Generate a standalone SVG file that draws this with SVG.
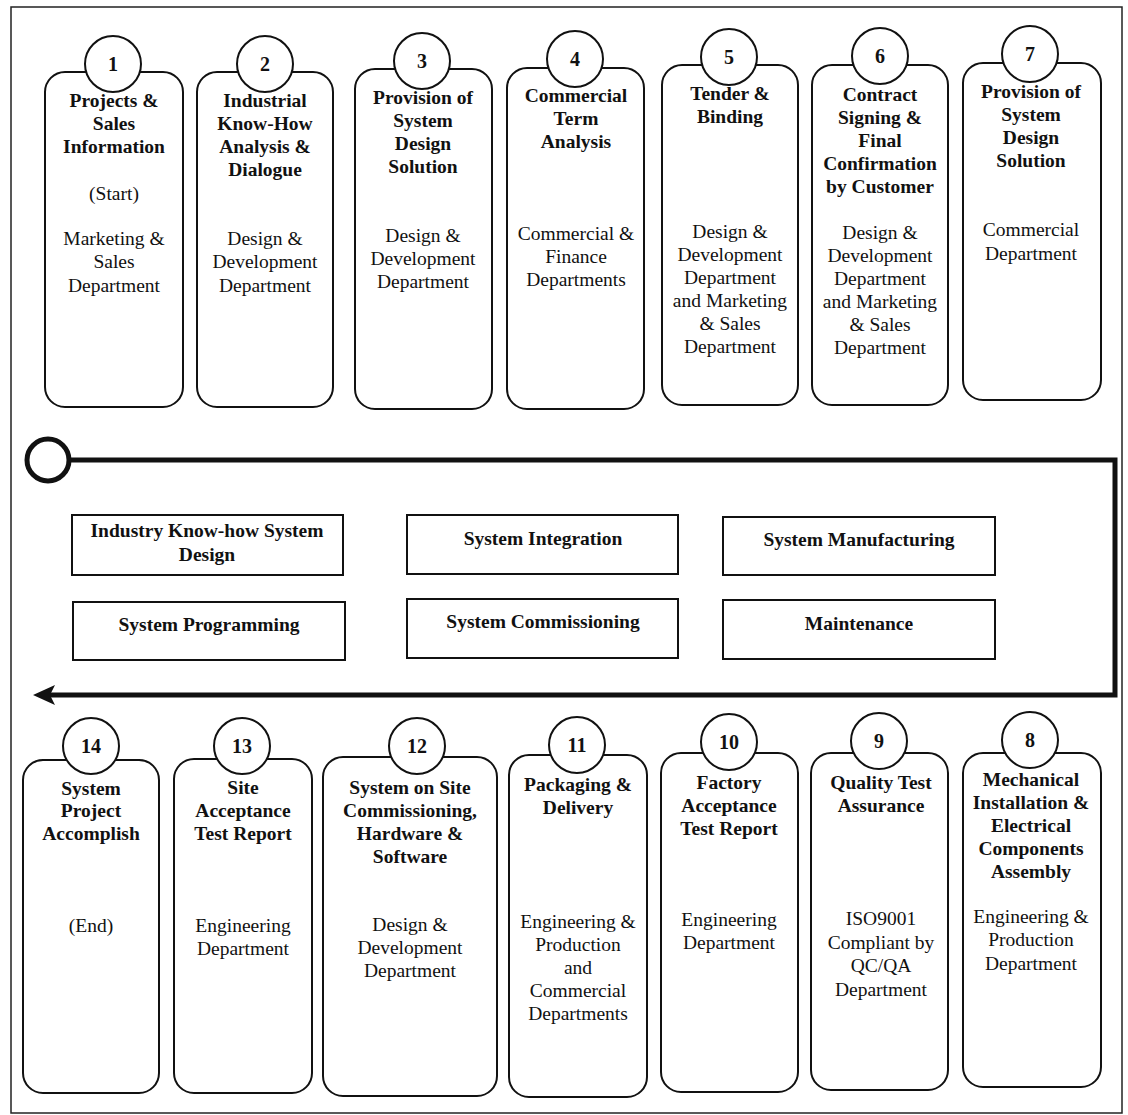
<svg xmlns="http://www.w3.org/2000/svg" width="1128" height="1115" viewBox="0 0 1128 1115">
<style>
.frame{fill:none;stroke:#222;stroke-width:1.5}
.box{fill:#fff;stroke:#111;stroke-width:2}
.num{fill:#fff;stroke:#111;stroke-width:2}
.mbox{fill:#fff;stroke:#111;stroke-width:2}
text{font-family:"Liberation Serif","Times New Roman",serif;font-size:19.5px;text-anchor:middle;fill:#111}
.b{font-weight:bold}
.d{font-weight:bold;font-size:20px}
.flow{fill:none;stroke:#111;stroke-width:5}
</style>
<defs>
<marker id="arr" markerUnits="userSpaceOnUse" viewBox="0 0 22 20" markerWidth="22" markerHeight="20" refX="15" refY="10" orient="auto">
<path d="M0,0 L22,10 L0,20 L5,10 Z" fill="#111"/>
</marker>
</defs>
<rect class="frame" x="11" y="7" width="1111" height="1106"/>

<g id="connectors">
<path class="flow" d="M69,460 H1115 V695 H40" marker-end="url(#arr)"/>
<circle cx="48" cy="460" r="21" fill="#fff" stroke="#111" stroke-width="5"/>
</g>

<!-- top row -->
<g id="node1">
<rect class="box" x="45" y="72" width="138" height="335" rx="20"/>
<circle class="num" cx="113" cy="64" r="28"/>
<text class="d" x="113" y="71">1</text>
<text class="b"><tspan x="114" y="107">Projects &amp;</tspan><tspan x="114" y="130">Sales</tspan><tspan x="114" y="153">Information</tspan></text>
<text><tspan x="114" y="200">(Start)</tspan><tspan x="114" y="245">Marketing &amp;</tspan><tspan x="114" y="268">Sales</tspan><tspan x="114" y="292">Department</tspan></text>
</g>
<g id="node2">
<rect class="box" x="197" y="72" width="136" height="335" rx="20"/>
<circle class="num" cx="265" cy="64" r="28"/>
<text class="d" x="265" y="71">2</text>
<text class="b"><tspan x="265" y="107">Industrial</tspan><tspan x="265" y="130">Know-How</tspan><tspan x="265" y="153">Analysis &amp;</tspan><tspan x="265" y="176">Dialogue</tspan></text>
<text><tspan x="265" y="245">Design &amp;</tspan><tspan x="265" y="268">Development</tspan><tspan x="265" y="292">Department</tspan></text>
</g>
<g id="node3">
<rect class="box" x="355" y="69" width="137" height="340" rx="20"/>
<circle class="num" cx="422" cy="61" r="28"/>
<text class="d" x="422" y="68">3</text>
<text class="b"><tspan x="423" y="104">Provision of</tspan><tspan x="423" y="127">System</tspan><tspan x="423" y="150">Design</tspan><tspan x="423" y="173">Solution</tspan></text>
<text><tspan x="423" y="242">Design &amp;</tspan><tspan x="423" y="265">Development</tspan><tspan x="423" y="288">Department</tspan></text>
</g>
<g id="node4">
<rect class="box" x="507" y="68" width="137" height="341" rx="20"/>
<circle class="num" cx="575" cy="59" r="28"/>
<text class="d" x="575" y="66">4</text>
<text class="b"><tspan x="576" y="102">Commercial</tspan><tspan x="576" y="125">Term</tspan><tspan x="576" y="148">Analysis</tspan></text>
<text><tspan x="576" y="240">Commercial &amp;</tspan><tspan x="576" y="263">Finance</tspan><tspan x="576" y="286">Departments</tspan></text>
</g>
<g id="node5">
<rect class="box" x="662" y="65" width="136" height="340" rx="20"/>
<circle class="num" cx="729" cy="57" r="28"/>
<text class="d" x="729" y="64">5</text>
<text class="b"><tspan x="730" y="100">Tender &amp;</tspan><tspan x="730" y="123">Binding</tspan></text>
<text><tspan x="730" y="238">Design &amp;</tspan><tspan x="730" y="261">Development</tspan><tspan x="730" y="284">Department</tspan><tspan x="730" y="307">and Marketing</tspan><tspan x="730" y="330">&amp; Sales</tspan><tspan x="730" y="353">Department</tspan></text>
</g>
<g id="node6">
<rect class="box" x="812" y="65" width="136" height="340" rx="20"/>
<circle class="num" cx="880" cy="56" r="28"/>
<text class="d" x="880" y="63">6</text>
<text class="b"><tspan x="880" y="101">Contract</tspan><tspan x="880" y="124">Signing &amp;</tspan><tspan x="880" y="147">Final</tspan><tspan x="880" y="170">Confirmation</tspan><tspan x="880" y="193">by Customer</tspan></text>
<text><tspan x="880" y="239">Design &amp;</tspan><tspan x="880" y="262">Development</tspan><tspan x="880" y="285">Department</tspan><tspan x="880" y="308">and Marketing</tspan><tspan x="880" y="331">&amp; Sales</tspan><tspan x="880" y="354">Department</tspan></text>
</g>
<g id="node7">
<rect class="box" x="963" y="63" width="138" height="337" rx="20"/>
<circle class="num" cx="1030" cy="54" r="28"/>
<text class="d" x="1030" y="61">7</text>
<text class="b"><tspan x="1031" y="98">Provision of</tspan><tspan x="1031" y="121">System</tspan><tspan x="1031" y="144">Design</tspan><tspan x="1031" y="167">Solution</tspan></text>
<text><tspan x="1031" y="236">Commercial</tspan><tspan x="1031" y="260">Department</tspan></text>
</g>

<!-- middle boxes -->
<g id="m1"><rect class="mbox" x="72" y="515" width="271" height="60"/><text class="b"><tspan x="207" y="537">Industry Know-how System</tspan><tspan x="207" y="561">Design</tspan></text></g>
<g id="m2"><rect class="mbox" x="73" y="602" width="272" height="58"/><text class="b" x="209" y="631">System Programming</text></g>
<g id="m3"><rect class="mbox" x="407" y="515" width="271" height="59"/><text class="b" x="543" y="545">System Integration</text></g>
<g id="m4"><rect class="mbox" x="407" y="599" width="271" height="59"/><text class="b" x="543" y="628">System Commissioning</text></g>
<g id="m5"><rect class="mbox" x="723" y="517" width="272" height="58"/><text class="b" x="859" y="546">System Manufacturing</text></g>
<g id="m6"><rect class="mbox" x="723" y="600" width="272" height="59"/><text class="b" x="859" y="630">Maintenance</text></g>

<!-- bottom row -->
<g id="node14">
<rect class="box" x="23" y="760" width="136" height="333" rx="20"/>
<circle class="num" cx="91" cy="746" r="28"/>
<text class="d" x="91" y="753">14</text>
<text class="b"><tspan x="91" y="795">System</tspan><tspan x="91" y="817">Project</tspan><tspan x="91" y="840">Accomplish</tspan></text>
<text x="91" y="932">(End)</text>
</g>
<g id="node13">
<rect class="box" x="174" y="759" width="138" height="334" rx="20"/>
<circle class="num" cx="242" cy="746" r="28"/>
<text class="d" x="242" y="753">13</text>
<text class="b"><tspan x="243" y="794">Site</tspan><tspan x="243" y="817">Acceptance</tspan><tspan x="243" y="840">Test Report</tspan></text>
<text><tspan x="243" y="932">Engineering</tspan><tspan x="243" y="955">Department</tspan></text>
</g>
<g id="node12">
<rect class="box" x="323" y="757" width="174" height="339" rx="20"/>
<circle class="num" cx="417" cy="746" r="28"/>
<text class="d" x="417" y="753">12</text>
<text class="b"><tspan x="410" y="794">System on Site</tspan><tspan x="410" y="817">Commissioning,</tspan><tspan x="410" y="840">Hardware &amp;</tspan><tspan x="410" y="863">Software</tspan></text>
<text><tspan x="410" y="931">Design &amp;</tspan><tspan x="410" y="954">Development</tspan><tspan x="410" y="977">Department</tspan></text>
</g>
<g id="node11">
<rect class="box" x="509" y="755" width="138" height="342" rx="20"/>
<circle class="num" cx="577" cy="745" r="28"/>
<text class="d" x="577" y="752">11</text>
<text class="b"><tspan x="578" y="791">Packaging &amp;</tspan><tspan x="578" y="814">Delivery</tspan></text>
<text><tspan x="578" y="928">Engineering &amp;</tspan><tspan x="578" y="951">Production</tspan><tspan x="578" y="974">and</tspan><tspan x="578" y="997">Commercial</tspan><tspan x="578" y="1020">Departments</tspan></text>
</g>
<g id="node10">
<rect class="box" x="661" y="753" width="137" height="339" rx="20"/>
<circle class="num" cx="729" cy="742" r="28"/>
<text class="d" x="729" y="749">10</text>
<text class="b"><tspan x="729" y="789">Factory</tspan><tspan x="729" y="812">Acceptance</tspan><tspan x="729" y="835">Test Report</tspan></text>
<text><tspan x="729" y="926">Engineering</tspan><tspan x="729" y="949">Department</tspan></text>
</g>
<g id="node9">
<rect class="box" x="811" y="753" width="137" height="337" rx="20"/>
<circle class="num" cx="879" cy="741" r="28"/>
<text class="d" x="879" y="748">9</text>
<text class="b"><tspan x="881" y="789">Quality Test</tspan><tspan x="881" y="812">Assurance</tspan></text>
<text><tspan x="881" y="925">ISO9001</tspan><tspan x="881" y="949">Compliant by</tspan><tspan x="881" y="972">QC/QA</tspan><tspan x="881" y="996">Department</tspan></text>
</g>
<g id="node8">
<rect class="box" x="963" y="753" width="138" height="334" rx="20"/>
<circle class="num" cx="1030" cy="740" r="28"/>
<text class="d" x="1030" y="747">8</text>
<text class="b"><tspan x="1031" y="786">Mechanical</tspan><tspan x="1031" y="809">Installation &amp;</tspan><tspan x="1031" y="832">Electrical</tspan><tspan x="1031" y="855">Components</tspan><tspan x="1031" y="878">Assembly</tspan></text>
<text><tspan x="1031" y="923">Engineering &amp;</tspan><tspan x="1031" y="946">Production</tspan><tspan x="1031" y="970">Department</tspan></text>
</g>
</svg>
